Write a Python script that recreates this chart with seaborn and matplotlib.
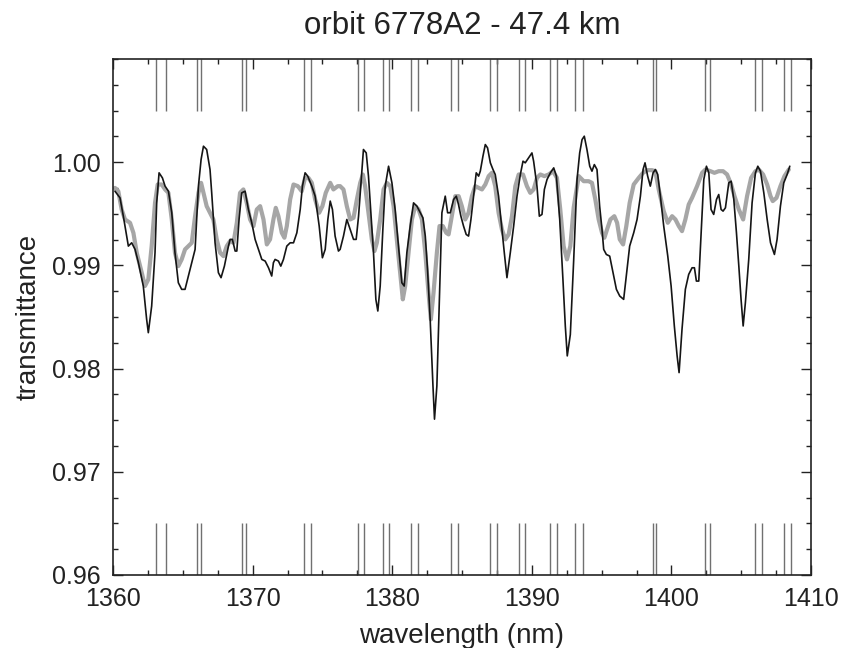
import numpy as np
import pandas as pd
import matplotlib
matplotlib.use("Agg")
import matplotlib.pyplot as plt
from matplotlib.ticker import MultipleLocator, FormatStrFormatter
import seaborn as sns

# ---------------- data ----------------
meas_wl = [1360.14, 1360.50, 1360.74, 1360.98, 1361.10, 1361.34, 1361.58, 1361.82, 1362.17, 1362.41,
           1362.53, 1362.77, 1363.01, 1363.13, 1363.30, 1363.54, 1363.73, 1363.97, 1364.21, 1364.44,
           1364.68, 1364.92, 1365.16, 1365.40, 1365.64, 1365.88, 1366.12, 1366.31, 1366.48, 1366.71,
           1366.95, 1367.07, 1367.31, 1367.55, 1367.74, 1367.98, 1368.27, 1368.39, 1368.55, 1368.75,
           1368.87, 1369.03, 1369.22, 1369.46, 1369.70, 1369.94, 1370.18, 1370.42, 1370.66, 1370.90,
           1371.14, 1371.37, 1371.49, 1371.61, 1371.85, 1372.02, 1372.21, 1372.45, 1372.69, 1372.93,
           1373.17, 1373.41, 1373.57, 1373.76, 1373.95, 1374.24, 1374.48, 1374.77, 1375.00, 1375.20,
           1375.39, 1375.56, 1375.72, 1375.91, 1376.15, 1376.27, 1376.51, 1376.75, 1376.99, 1377.23,
           1377.42, 1377.59, 1377.75, 1377.94, 1378.14, 1378.30, 1378.47, 1378.66, 1378.83, 1378.97,
           1379.14, 1379.33, 1379.50, 1379.74, 1379.98, 1380.21, 1380.45, 1380.69, 1380.86, 1381.05,
           1381.29, 1381.53, 1381.77, 1382.01, 1382.20, 1382.37, 1382.53, 1382.72, 1382.92, 1383.03,
           1383.20, 1383.34, 1383.44, 1383.56, 1383.80, 1383.97, 1384.16, 1384.40, 1384.59, 1384.75,
           1384.92, 1385.11, 1385.30, 1385.47, 1385.64, 1385.83, 1386.02, 1386.19, 1386.31, 1386.50,
           1386.67, 1386.83, 1387.03, 1387.22, 1387.38, 1387.62, 1387.86, 1388.03, 1388.22, 1388.46,
           1388.70, 1388.94, 1389.18, 1389.37, 1389.53, 1389.77, 1390.01, 1390.13, 1390.37, 1390.54,
           1390.73, 1390.90, 1391.09, 1391.33, 1391.57, 1391.76, 1392.00, 1392.23, 1392.40, 1392.54,
           1392.76, 1393.00, 1393.24, 1393.43, 1393.60, 1393.76, 1393.95, 1394.15, 1394.31, 1394.48,
           1394.67, 1394.86, 1395.03, 1395.15, 1395.34, 1395.58, 1395.82, 1396.06, 1396.30, 1396.58,
           1396.77, 1397.01, 1397.30, 1397.54, 1397.78, 1397.97, 1398.11, 1398.30, 1398.49, 1398.69,
           1398.85, 1399.02, 1399.21, 1399.45, 1399.74, 1399.98, 1400.21, 1400.41, 1400.55, 1400.76,
           1401.00, 1401.24, 1401.48, 1401.65, 1401.79, 1401.96, 1402.13, 1402.32, 1402.51, 1402.68,
           1402.84, 1403.03, 1403.23, 1403.39, 1403.56, 1403.70, 1403.87, 1404.11, 1404.28, 1404.47,
           1404.66, 1404.83, 1404.99, 1405.14, 1405.30, 1405.54, 1405.78, 1406.02, 1406.19, 1406.38,
           1406.62, 1406.86, 1407.10, 1407.38, 1407.57, 1407.81, 1408.05, 1408.29, 1408.48]
meas_tr = [0.99719, 0.99655, 0.99477, 0.99284, 0.99187, 0.99219, 0.99155, 0.99026, 0.98800, 0.98477,
           0.98348, 0.98606, 0.99123, 0.99606, 0.99897, 0.99848, 0.99768, 0.99719, 0.99510, 0.99123,
           0.98832, 0.98768, 0.98768, 0.98897, 0.99026, 0.99155, 0.99768, 1.00026, 1.00155, 1.00123,
           0.99929, 0.99703, 0.99219, 0.98929, 0.98881, 0.98993, 0.99187, 0.99252, 0.99252, 0.99139,
           0.99139, 0.99445, 0.99703, 0.99719, 0.99542, 0.99413, 0.99252, 0.99155, 0.99058, 0.99042,
           0.98977, 0.98897, 0.99026, 0.99058, 0.99042, 0.98993, 0.99058, 0.99187, 0.99219, 0.99219,
           0.99316, 0.99542, 0.99768, 0.99897, 0.99865, 0.99768, 0.99671, 0.99381, 0.99074, 0.99155,
           0.99445, 0.99623, 0.99542, 0.99284, 0.99139, 0.99155, 0.99284, 0.99445, 0.99348, 0.99252,
           0.99252, 0.99477, 0.99768, 1.00123, 1.00090, 0.99865, 0.99510, 0.99123, 0.98671, 0.98558,
           0.98800, 0.99348, 0.99768, 0.99961, 0.99800, 0.99542, 0.99187, 0.98832, 0.98800, 0.99123,
           0.99381, 0.99606, 0.99574, 0.99510, 0.99461, 0.99284, 0.98961, 0.98477, 0.97832, 0.97510,
           0.97832, 0.98477, 0.98961, 0.99510, 0.99671, 0.99510, 0.99510, 0.99639, 0.99671, 0.99590,
           0.99477, 0.99381, 0.99300, 0.99284, 0.99445, 0.99671, 0.99897, 0.99865, 0.99913, 1.00058,
           1.00171, 1.00139, 0.99994, 0.99929, 0.99881, 0.99671, 0.99348, 0.99123, 0.98881, 0.99123,
           0.99381, 0.99671, 0.99881, 1.00010, 0.99994, 1.00042, 1.00090, 1.00010, 0.99768, 0.99477,
           0.99494, 0.99736, 0.99832, 0.99897, 0.99945, 0.99865, 0.99445, 0.98864, 0.98413, 0.98123,
           0.98330, 0.99050, 0.99832, 1.00090, 1.00219, 1.00252, 1.00123, 0.99961, 0.99913, 0.99977,
           0.99929, 0.99574, 0.99348, 0.99155, 0.99106, 0.99090, 0.98929, 0.98768, 0.98703, 0.98671,
           0.98897, 0.99187, 0.99316, 0.99445, 0.99671, 0.99929, 0.99994, 0.99865, 0.99768, 0.99897,
           0.99929, 0.99881, 0.99671, 0.99381, 0.99090, 0.98800, 0.98413, 0.98123, 0.97961, 0.98381,
           0.98768, 0.98913, 0.98977, 0.98977, 0.98848, 0.98848, 0.99316, 0.99832, 0.99961, 0.99897,
           0.99542, 0.99494, 0.99639, 0.99687, 0.99542, 0.99526, 0.99558, 0.99800, 0.99816, 0.99639,
           0.99316, 0.98993, 0.98671, 0.98413, 0.98639, 0.99058, 0.99606, 0.99897, 0.99961, 0.99913,
           0.99703, 0.99445, 0.99219, 0.99106, 0.99252, 0.99574, 0.99800, 0.99881, 0.99961]

model_wl = [1360.14, 1360.38, 1360.62, 1360.86, 1361.22, 1361.46, 1361.70, 1362.06, 1362.29, 1362.53,
            1362.77, 1363.01, 1363.20, 1363.49, 1363.73, 1363.97, 1364.21, 1364.44, 1364.68, 1364.92,
            1365.16, 1365.40, 1365.64, 1365.88, 1366.12, 1366.31, 1366.48, 1366.71, 1366.95, 1367.19,
            1367.43, 1367.67, 1367.91, 1368.15, 1368.39, 1368.63, 1368.87, 1369.10, 1369.34, 1369.58,
            1369.82, 1370.06, 1370.30, 1370.54, 1370.78, 1371.02, 1371.25, 1371.49, 1371.66, 1371.85,
            1372.09, 1372.28, 1372.45, 1372.69, 1372.93, 1373.24, 1373.52, 1373.76, 1374.00, 1374.24,
            1374.48, 1374.77, 1375.00, 1375.24, 1375.56, 1375.79, 1376.10, 1376.27, 1376.51, 1376.75,
            1376.99, 1377.23, 1377.47, 1377.71, 1377.90, 1378.06, 1378.30, 1378.54, 1378.73, 1378.90,
            1379.14, 1379.38, 1379.62, 1379.86, 1380.10, 1380.33, 1380.57, 1380.76, 1380.93, 1381.17,
            1381.41, 1381.65, 1381.89, 1382.13, 1382.37, 1382.60, 1382.77, 1382.96, 1383.20, 1383.39,
            1383.63, 1383.87, 1384.04, 1384.23, 1384.52, 1384.76, 1384.99, 1385.23, 1385.47, 1385.71,
            1385.95, 1386.19, 1386.43, 1386.67, 1386.91, 1387.14, 1387.38, 1387.62, 1387.86, 1388.10,
            1388.34, 1388.58, 1388.82, 1389.06, 1389.37, 1389.65, 1389.89, 1390.13, 1390.37, 1390.61,
            1390.90, 1391.21, 1391.52, 1391.80, 1392.04, 1392.28, 1392.52, 1392.76, 1393.00, 1393.36,
            1393.72, 1394.07, 1394.31, 1394.55, 1394.79, 1395.03, 1395.20, 1395.39, 1395.63, 1395.91,
            1396.11, 1396.30, 1396.54, 1396.77, 1397.01, 1397.30, 1397.66, 1397.97, 1398.26, 1398.61,
            1398.85, 1399.09, 1399.45, 1399.74, 1400.05, 1400.29, 1400.53, 1400.76, 1401.00, 1401.24,
            1401.48, 1401.84, 1402.20, 1402.44, 1402.80, 1403.08, 1403.39, 1403.70, 1403.99, 1404.28,
            1404.52, 1404.83, 1405.14, 1405.42, 1405.71, 1406.02, 1406.26, 1406.57, 1406.86, 1407.10,
            1407.26, 1407.53, 1407.81, 1408.10, 1408.41]
model_tr = [0.99751, 0.99719, 0.99542, 0.99445, 0.99413, 0.99316, 0.99123, 0.98929, 0.98800, 0.98864,
            0.99187, 0.99606, 0.99784, 0.99784, 0.99736, 0.99703, 0.99445, 0.99123, 0.98993, 0.99058,
            0.99155, 0.99187, 0.99219, 0.99477, 0.99703, 0.99800, 0.99703, 0.99574, 0.99510, 0.99445,
            0.99252, 0.99123, 0.99090, 0.99187, 0.99236, 0.99219, 0.99413, 0.99703, 0.99736, 0.99606,
            0.99445, 0.99381, 0.99542, 0.99574, 0.99445, 0.99203, 0.99252, 0.99445, 0.99558, 0.99477,
            0.99316, 0.99268, 0.99381, 0.99639, 0.99784, 0.99768, 0.99719, 0.99848, 0.99848, 0.99800,
            0.99639, 0.99510, 0.99574, 0.99703, 0.99800, 0.99736, 0.99768, 0.99768, 0.99736, 0.99574,
            0.99445, 0.99461, 0.99639, 0.99800, 0.99881, 0.99768, 0.99510, 0.99252, 0.99139, 0.99219,
            0.99445, 0.99736, 0.99800, 0.99768, 0.99574, 0.99252, 0.98929, 0.98671, 0.98800, 0.99123,
            0.99445, 0.99574, 0.99542, 0.99445, 0.99123, 0.98735, 0.98477, 0.98735, 0.99123, 0.99381,
            0.99381, 0.99316, 0.99300, 0.99445, 0.99671, 0.99671, 0.99574, 0.99445, 0.99510, 0.99671,
            0.99768, 0.99752, 0.99736, 0.99784, 0.99865, 0.99897, 0.99768, 0.99510, 0.99348, 0.99252,
            0.99300, 0.99477, 0.99768, 0.99881, 0.99881, 0.99768, 0.99703, 0.99736, 0.99848, 0.99881,
            0.99865, 0.99881, 0.99913, 0.99848, 0.99542, 0.99187, 0.99058, 0.99187, 0.99560, 0.99865,
            0.99816, 0.99816, 0.99800, 0.99639, 0.99445, 0.99316, 0.99268, 0.99348, 0.99445, 0.99477,
            0.99413, 0.99252, 0.99203, 0.99381, 0.99606, 0.99784, 0.99848, 0.99897, 0.99923, 0.99923,
            0.99913, 0.99736, 0.99526, 0.99413, 0.99477, 0.99445, 0.99381, 0.99332, 0.99445, 0.99590,
            0.99655, 0.99768, 0.99897, 0.99929, 0.99913, 0.99897, 0.99913, 0.99913, 0.99881, 0.99784,
            0.99671, 0.99542, 0.99445, 0.99671, 0.99848, 0.99913, 0.99929, 0.99881, 0.99784, 0.99671,
            0.99623, 0.99655, 0.99768, 0.99865, 0.99929]

line_positions = [1363.10, 1363.78, 1366.00, 1366.31, 1369.23, 1369.51, 1373.71, 1374.19,
                  1377.54, 1378.01, 1379.35, 1379.78, 1381.34, 1381.84, 1384.21, 1384.68,
                  1387.03, 1387.51, 1389.05, 1389.53, 1391.28, 1391.81, 1393.12, 1393.64,
                  1398.66, 1398.92, 1402.42, 1402.75, 1405.97, 1406.50, 1408.05, 1408.58]

x_ticks = [1360, 1370, 1380, 1390, 1400, 1410]
y_ticks = [0.96, 0.97, 0.98, 0.99, 1.00]

title = "orbit 6778A2 - 47.4 km"
xlabel = "wavelength (nm)"
ylabel = "transmittance"

# ---------------- style ----------------
sns.set_theme(style="ticks")
plt.rcParams['font.family'] = ['Liberation Sans', 'DejaVu Sans']

fig = plt.figure(figsize=(8.45, 6.48), dpi=100)
ax = fig.add_axes([113/845, 1 - 575/648, (811-113)/845, (575-59)/648])

meas = pd.DataFrame({"wl": meas_wl, "tr": meas_tr})
model = pd.DataFrame({"wl": model_wl, "tr": model_tr})

sns.lineplot(data=model, x="wl", y="tr", ax=ax, color="#a6a6a6", linewidth=3.0,
             estimator=None, sort=False, zorder=2)
sns.lineplot(data=meas, x="wl", y="tr", ax=ax, color="#151515", linewidth=1.2,
             estimator=None, sort=False, zorder=3)

ax.vlines(line_positions, 1.005, 1.010, color="#707070", linewidth=1.0, zorder=1)
ax.vlines(line_positions, 0.960, 0.965, color="#707070", linewidth=1.0, zorder=1)

ax.set_xlim(1360, 1410)
ax.set_ylim(0.96, 1.01)
ax.set_xticks(x_ticks)
ax.set_yticks(y_ticks)
ax.xaxis.set_major_formatter(FormatStrFormatter('%d'))
ax.yaxis.set_major_formatter(FormatStrFormatter('%.2f'))
ax.xaxis.set_minor_locator(MultipleLocator(2.5))
ax.yaxis.set_minor_locator(MultipleLocator(0.0025))
ax.tick_params(which='both', direction='in', top=True, right=True, colors="#222222",
               labelcolor="#222222", labelsize=18, width=1.0)
ax.tick_params(which='major', length=7)
ax.tick_params(which='minor', length=3.5)
ax.tick_params(axis='x', which='major', pad=9)
ax.tick_params(axis='y', which='major', pad=9)
for s in ax.spines.values():
    s.set_linewidth(1.2)
    s.set_color("#222222")

ax.set_title(title, fontsize=22.5, color="#222222", pad=18)
ax.set_xlabel(xlabel, fontsize=20, color="#222222", labelpad=8)
ax.set_ylabel(ylabel, fontsize=20, color="#222222", labelpad=7)

fig.savefig("out.png", dpi=100)
